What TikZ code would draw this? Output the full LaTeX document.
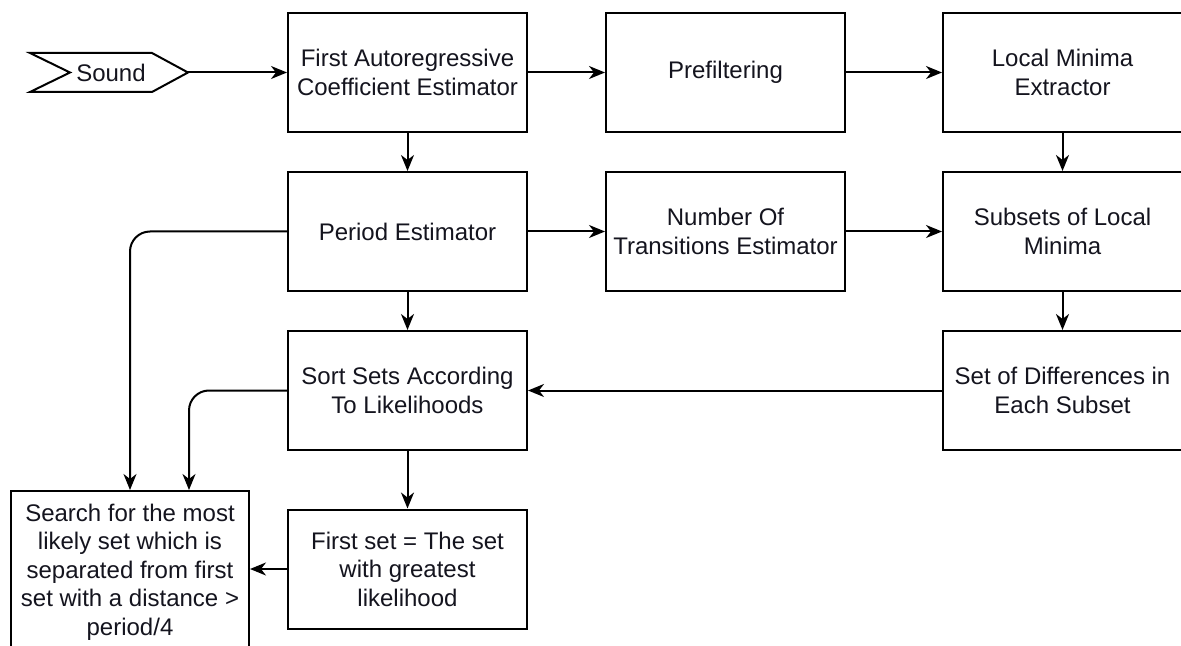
\documentclass[tikz,border=0pt]{standalone}
\usepackage{fontspec}
\setmainfont{Liberation Sans}
\usepackage{xcolor}
\definecolor{flowink}{RGB}{0,0,0}
\definecolor{flowtext}{RGB}{20,20,30}
\usetikzlibrary{arrows.meta,positioning}
\tikzset{
  box/.style={draw=flowink,line width=1pt,align=center,fill=white,minimum width=119.5pt,minimum height=59.5pt,inner sep=2pt,font=\fontsize{12}{14.25}\selectfont,text=flowtext},
  lab/.style={align=center,font=\fontsize{12}{14.25}\selectfont,text=flowtext},
  arr/.style={-{Stealth[length=8pt,width=6.5pt,inset=2.5pt]},line width=1pt,draw=flowink},
  line/.style={line width=1pt,draw=flowink},
}

\begin{document}
\begin{tikzpicture}[x=0.5pt,y=-0.5pt]
    \useasboundingbox (0,0) rectangle (1181,646);
    % input signal
    \draw[line] (30,53) -- (152,53) -- (188,72.5) -- (152,92) -- (30,92) -- (70,72.5) -- cycle;
    \node[lab] (sound) at (111,72.5) {Sound};
    \coordinate (soundtip) at (188,72.5);
    % first row
    \node[box] (arcoef) at (407.5,72.5) {First Autoregressive\\Coefficient Estimator};
    \node[box] (prefilt) at (725.5,72.5) {Prefiltering};
    \node[box] (minext) at (1062.5,72.5) {Local Minima\\Extractor};
    % second row
    \node[box] (period) at (407.5,231.5) {Period Estimator};
    \node[box] (ntrans) at (725.5,231.5) {Number Of\\Transitions Estimator};
    \node[box] (subsets) at (1062.5,231.5) {Subsets of Local\\Minima};
    % third row
    \node[box] (sortsets) at (407.5,390.5) {Sort Sets According\\To Likelihoods};
    \node[box] (diffs) at (1062.5,390.5) {Set of Differences in\\Each Subset};
    % last row
    \node[box] (firstset) at (407.5,569) {First set = The set\\with greatest\\likelihood};
    \node[box,minimum width=119pt,minimum height=81pt] (search) at (130,572) {Search for the most\\likely set which is\\separated from first\\set with a distance >\\period/4};
    % connectors
    \draw[arr] (soundtip) -- (arcoef.west);
    \draw[arr] (arcoef.east) -- (prefilt.west);
    \draw[arr] (prefilt.east) -- (minext.west);
    \draw[arr] (arcoef.south) -- (period.north);
    \draw[arr] (minext.south) -- (subsets.north);
    \draw[arr] (period.east) -- (ntrans.west);
    \draw[arr] (ntrans.east) -- (subsets.west);
    \draw[arr] (period.south) -- (sortsets.north);
    \draw[arr] (subsets.south) -- (diffs.north);
    \draw[arr] (diffs.west) -- (sortsets.east);
    \draw[arr] (sortsets.south) -- (firstset.north);
    \draw[arr] (firstset.west) -- (firstset.west -| search.east);
    \draw[arr,rounded corners=10pt] (period.west) -| (search.north);
    \draw[arr,rounded corners=10pt] (sortsets.west) -| ([xshift=29.5pt]search.north);
  \end{tikzpicture}
\end{document}
